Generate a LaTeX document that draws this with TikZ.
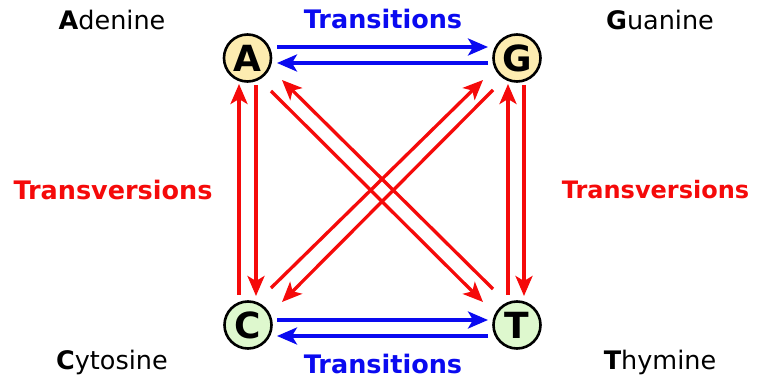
\documentclass[tikz,border=0pt]{standalone}
\usepackage{fontspec}
\setmainfont{DejaVu Sans}
\usetikzlibrary{arrows.meta}
\definecolor{ynode}{RGB}{253,236,176}
\definecolor{gnode}{RGB}{222,248,206}
\definecolor{tblue}{RGB}{10,10,240}
\definecolor{tred}{RGB}{245,10,10}
\begin{document}
\begin{tikzpicture}[x=1pt,y=-1pt,
  base/.style={draw=black,line width=2.6pt,circle,minimum size=47pt,inner sep=0pt,font=\fontsize{36}{40}\selectfont\bfseries},
  pur/.style={base,fill=ynode},
  pyr/.style={base,fill=gnode},
  bl/.style={draw=tblue,line width=3.3pt,-{Stealth[length=20pt,width=17pt,inset=5pt]}},
  rd/.style={draw=tred,line width=3.3pt,-{Stealth[length=20pt,width=17pt,inset=5pt]}},
  lbl/.style={inner sep=0pt,font=\fontsize{25.5}{29}\selectfont},
  tlbl/.style={inner sep=0pt,font=\fontsize{25.5}{29}\selectfont\bfseries}]
\useasboundingbox (0,0) rectangle (769,379);
\node[pur] (A) at (247.5,58) {A};
\node[pur] (G) at (517,58) {G};
\node[pyr] (C) at (248,325) {C};
\node[pyr] (T) at (517,325) {T};
% anchors
\coordinate (ag1) at (277,47); \coordinate (ag2) at (488,47);
\coordinate (ga1) at (488,63); \coordinate (ga2) at (277,63);
\coordinate (ct1) at (277,320); \coordinate (ct2) at (488,320);
\coordinate (tc1) at (488,336); \coordinate (tc2) at (277,336);
\draw[bl] (ag1) -- (ag2);
\draw[bl] (ga1) -- (ga2);
\draw[bl] (ct1) -- (ct2);
\draw[bl] (tc1) -- (tc2);
% verticals
\coordinate (ca1) at (239,295); \coordinate (ca2) at (239,84);
\coordinate (ac1) at (256,85); \coordinate (ac2) at (256,296);
\coordinate (tg1) at (508,295); \coordinate (tg2) at (508,84);
\coordinate (gt1) at (524,85); \coordinate (gt2) at (524,296);
\draw[rd] (ca1) -- (ca2);
\draw[rd] (ac1) -- (ac2);
\draw[rd] (tg1) -- (tg2);
\draw[rd] (gt1) -- (gt2);
% diagonals
\coordinate (at1) at (271,91); \coordinate (at2) at (483,302);
\coordinate (ta1) at (493,289); \coordinate (ta2) at (282,80);
\coordinate (gc1) at (493,90); \coordinate (gc2) at (282,302);
\coordinate (cg1) at (271,288); \coordinate (cg2) at (483,80);
\draw[rd] (at1) -- (at2);
\draw[rd] (ta1) -- (ta2);
\draw[rd] (gc1) -- (gc2);
\draw[rd] (cg1) -- (cg2);
% labels
\node[tlbl,text=tblue] (tt) at (383,19) {Transitions};
\node[tlbl,text=tblue] (tb) at (383,364) {Transitions};
\node[tlbl,text=tred] (vl) at (113,190) {Transversions};
\node[tlbl,text=tred,font=\fontsize{24}{28}\selectfont\bfseries] (vr) at (655.5,190) {Transversions};
\node[lbl] (na) at (112,20) {\textbf{A}denine};
\node[lbl] (ng) at (660,20) {\textbf{G}uanine};
\node[lbl] (nc) at (112,362) {\textbf{C}ytosine};
\node[lbl] (nt) at (660,362) {\textbf{T}hymine};
\end{tikzpicture}
\end{document}
